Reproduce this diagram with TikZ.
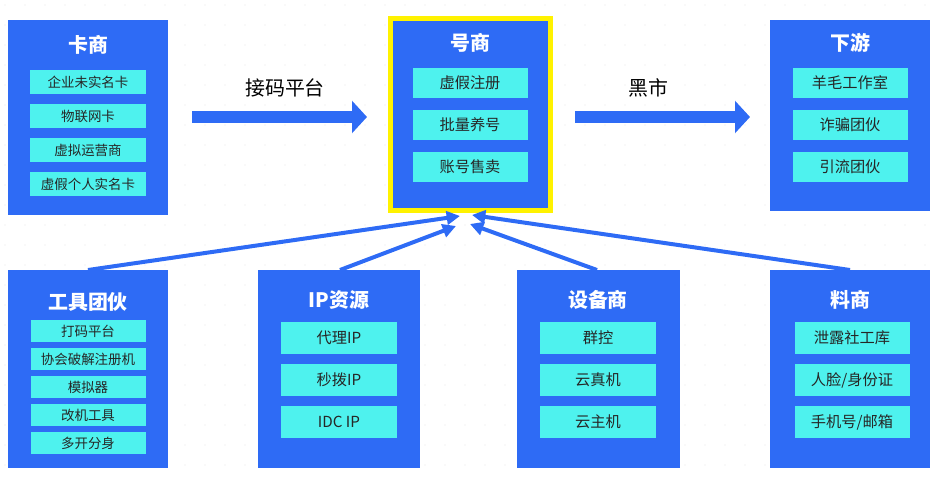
\documentclass[tikz,border=0pt]{standalone}
\usepackage{fontspec}
\setmainfont{Noto Sans CJK SC}
\usetikzlibrary{arrows.meta}
\definecolor{bl}{HTML}{2E6BF5}
\definecolor{cy}{HTML}{4EF2EE}
\definecolor{yl}{HTML}{FFF200}
\begin{document}
\begin{tikzpicture}[x=0.03cm,y=-0.03cm,
 box/.style={fill=bl,draw=none},
 item/.style={fill=cy,draw=none},
 ttl/.style={text=white,font=\fontsize{17}{17}\selectfont\bfseries},
 itx/.style={text=black!85,font=\fontsize{13}{13}\selectfont},
 its/.style={text=black!85,font=\fontsize{11.5}{11.5}\selectfont},
 big/.style={bl,line width=0.36cm,-{Triangle[length=0.45cm,width=0.95cm]}},
 thin/.style={bl,line width=0.12cm,-{Triangle[length=0.4cm,width=0.4cm]}}]
\useasboundingbox (0,0) rectangle (939,479);
\foreach \i in {0,...,47}{\foreach \j in {0,...,24}{\fill[black!10] (\i*20+5,\j*20+5) circle (0.6);}}
\fill[box] (8,20) rectangle (168,215); \node[ttl] (t1) at (88,45) {卡商};
\foreach \y/\t [count=\k] in {70/企业未实名卡,104/物联网卡,138/虚拟运营商,172/虚假个人实名卡}{
 \fill[item] (30,\y) rectangle (146,\y+24); \node[its] (a\k) at (88,\y+12) {\t};}
\fill[yl] (388,16) rectangle (553,213);
\fill[box] (393,21) rectangle (548,208); \node[ttl] (t2) at (470,43) {号商};
\foreach \y/\t [count=\k] in {68/虚假注册,110/批量养号,152/账号售卖}{
 \fill[item] (413,\y) rectangle (528,\y+30); \node[itx] (b\k) at (470,\y+15) {\t};}
\fill[box] (770,20) rectangle (930,211); \node[ttl] (t3) at (850,43) {下游};
\foreach \y/\t [count=\k] in {68/羊毛工作室,110/诈骗团伙,152/引流团伙}{
 \fill[item] (793,\y) rectangle (908,\y+30); \node[itx] (c\k) at (850,\y+15) {\t};}
\fill[box] (8,270) rectangle (168,468); \node[ttl] (t4) at (88,302) {工具团伙};
\foreach \y/\t [count=\k] in {320/打码平台,348/协会破解注册机,376/模拟器,404/改机工具,432/多开分身}{
 \fill[item] (31,\y) rectangle (146,\y+22); \node[its] (d\k) at (88,\y+11) {\t};}
\fill[box] (258,270) rectangle (420,468); \node[ttl] (t5) at (339,300) {IP资源};
\foreach \y/\t [count=\k] in {322/代理IP,364/秒拨IP,406/IDC IP}{
 \fill[item] (281,\y) rectangle (397,\y+32); \node[itx] (e\k) at (339,\y+16) {\t};}
\fill[box] (517,270) rectangle (680,468); \node[ttl] (t6) at (598,300) {设备商};
\foreach \y/\t [count=\k] in {322/群控,364/云真机,406/云主机}{
 \fill[item] (540,\y) rectangle (656,\y+32); \node[itx] (f\k) at (598,\y+16) {\t};}
\fill[box] (770,270) rectangle (930,468); \node[ttl] (t7) at (850,300) {料商};
\foreach \y/\t [count=\k] in {322/{泄露社工库},364/{人脸/身份证},406/{手机号/邮箱}}{
 \fill[item] (795,\y) rectangle (910,\y+32); \node[itx] (g\k) at (852,\y+16) {\t};}
\coordinate (p1) at (192,117); \coordinate (p2) at (367,117);
\coordinate (q1) at (575,117); \coordinate (q2) at (750,117);
\draw[big] (p1) -- (p2); \draw[big] (q1) -- (q2);
\node[font=\fontsize{17}{17}\selectfont] (l1) at (285,88) {接码平台};
\node[font=\fontsize{17}{17}\selectfont] (l2) at (648,88) {黑市};
\coordinate (s1) at (88,270); \coordinate (s2) at (340,270);
\coordinate (s3) at (597,270); \coordinate (s4) at (850,270);
\coordinate (h1) at (460,216); \coordinate (h2) at (456,226);
\coordinate (h3) at (470,224); \coordinate (h4) at (472,215);
\draw[thin] (s1) -- (h1); \draw[thin] (s2) -- (h2);
\draw[thin] (s3) -- (h3); \draw[thin] (s4) -- (h4);
\end{tikzpicture}
\end{document}
